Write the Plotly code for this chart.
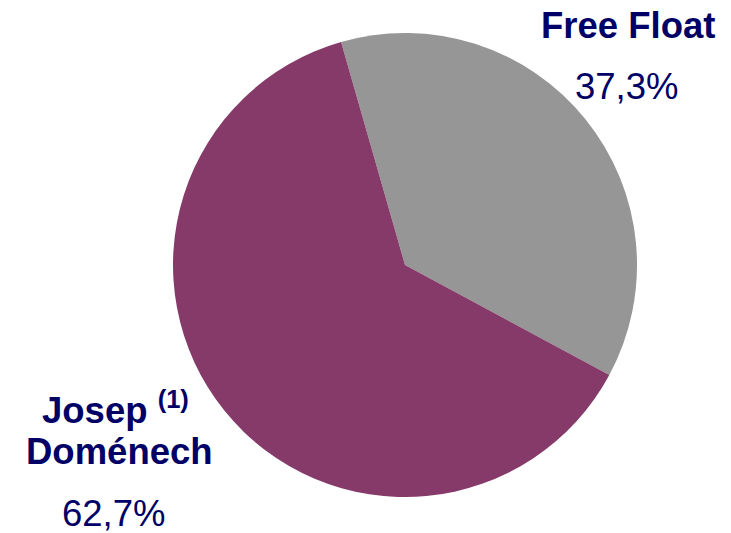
import plotly.graph_objects as go

# Shareholder structure
holders = ["Free Float", "Josep Doménech"]
shares = [37.3, 62.7]
share_labels = ["37,3%", "62,7%"]
slice_colors = ["#969696", "#853A69"]

NAVY = "#000066"
FONT = "Liberation Sans, Arial, sans-serif"

W, H = 731, 533
cx, cy, r = 405, 265, 232

fig = go.Figure(
    go.Pie(
        labels=holders,
        values=shares,
        sort=False,
        direction="clockwise",
        rotation=-16,
        marker=dict(colors=slice_colors, line=dict(width=0)),
        textinfo="none",
        hoverinfo="skip",
        domain=dict(
            x=[(cx - r) / W, (cx + r) / W],
            y=[1 - (cy + r) / H, 1 - (cy - r) / H],
        ),
    )
)

def px(x):
    return x / W

def py(y):
    return 1 - y / H

# label baselines (in pixels from top), anchored by the bottom of the text box
DESC = 10
annotations = [
    dict(text="<b>Free Float</b>", x=px(628), y=py(37 + DESC)),
    dict(text=share_labels[0], x=px(627), y=py(98 + DESC)),
    dict(text="<b>Josep <sup>(1)</sup></b>", x=px(115), y=py(422 + DESC)),
    dict(text="<b>Doménech</b>", x=px(119), y=py(463 + DESC)),
    dict(text=share_labels[1], x=px(114), y=py(525 + DESC)),
]

fig.update_layout(
    width=W,
    height=H,
    margin=dict(l=0, r=0, t=0, b=0),
    paper_bgcolor="white",
    plot_bgcolor="white",
    showlegend=False,
    annotations=[
        dict(
            text=a["text"],
            x=a["x"],
            y=a["y"],
            xref="paper",
            yref="paper",
            xanchor="center",
            yanchor="bottom",
            showarrow=False,
            borderpad=0,
            font=dict(family=FONT, size=36.5, color=NAVY),
        )
        for a in annotations
    ],
)

fig.write_html("out.html")
